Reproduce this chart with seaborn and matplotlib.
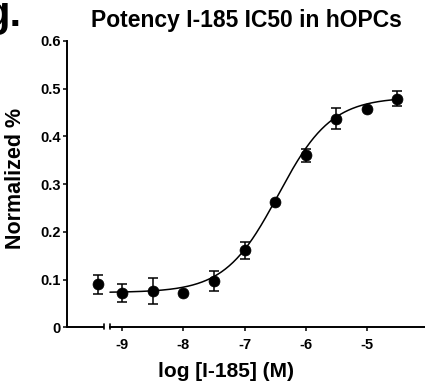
import numpy as np
import pandas as pd
import seaborn as sns
import matplotlib.pyplot as plt
import matplotlib.transforms as mtransforms

# Measured points (log concentration, normalized response, SEM)
log_conc = [-9.4, -9.0, -8.5, -8.0, -7.5, -7.0, -6.5, -6.0, -5.5, -5.0, -4.5]
response = [0.090, 0.072, 0.076, 0.071, 0.097, 0.161, 0.263, 0.360, 0.437, 0.458, 0.479]
sem = [0.020, 0.019, 0.027, 0.0, 0.021, 0.018, 0.0, 0.013, 0.022, 0.0, 0.016]

# 4PL fit parameters
fit_bottom = 0.073
fit_top = 0.482
fit_logic50 = -6.45
fit_hill = 1.0
fit_range = (-9.2, -4.5)

xticks = [-9, -8, -7, -6, -5]
yticks = [0, 0.1, 0.2, 0.3, 0.4, 0.5, 0.6]
ytick_labels = ["0", "0.1", "0.2", "0.3", "0.4", "0.5", "0.6"]

df = pd.DataFrame({"logc": log_conc, "resp": response, "sem": sem})
xfit = np.linspace(fit_range[0], fit_range[1], 300)
fit = pd.DataFrame({"logc": xfit,
                    "resp": fit_bottom + (fit_top - fit_bottom) / (1 + 10 ** ((fit_logic50 - xfit) * fit_hill))})

sns.set_style("ticks")
plt.rcParams["font.family"] = ["Liberation Sans", "DejaVu Sans"]
plt.rcParams["font.weight"] = "bold"
plt.rcParams["text.color"] = "black"
plt.rcParams["axes.labelcolor"] = "black"
plt.rcParams["xtick.color"] = "black"
plt.rcParams["ytick.color"] = "black"
plt.rcParams["axes.edgecolor"] = "black"

fig = plt.figure(figsize=(4.25, 3.82), dpi=100)
ax = fig.add_axes([0.158, 0.143, 0.842, 0.75])

sns.lineplot(data=fit, x="logc", y="resp", color="black", linewidth=1.1, ax=ax)
err = df[df["sem"] > 0]
ax.errorbar(err["logc"], err["resp"], yerr=err["sem"], fmt="none", ecolor="black",
            elinewidth=1.1, capsize=3.8, capthick=1.1, zorder=3)
sns.scatterplot(data=df, x="logc", y="resp", color="black", s=62, edgecolor="black",
                linewidth=0.5, zorder=4, ax=ax)

ax.set_xlim(-9.9, -4.05)
ax.set_ylim(0, 0.6)
ax.set_xticks(xticks)
ax.set_xticklabels([str(t) for t in xticks])
ax.set_yticks(yticks)
ax.set_yticklabels(ytick_labels)
ax.tick_params(axis="both", labelsize=10.5, width=1.1, length=3, pad=1.5)
for lbl in ax.get_xticklabels() + ax.get_yticklabels():
    lbl.set_fontweight("bold")
ax.tick_params(axis="x", pad=5)

sns.despine(ax=ax)
for s in ["left", "bottom"]:
    ax.spines[s].set_linewidth(1.4)

# broken x axis
ax.spines["bottom"].set_bounds(-9.2, -4.05)
trans = mtransforms.blended_transform_factory(ax.transData, ax.transAxes)
ax.plot([-9.9, -9.3], [0, 0], color="black", lw=1.4, transform=trans, clip_on=False,
        solid_capstyle="butt")
for bx in (-9.3, -9.2):
    ax.plot([bx, bx], [-0.004, 0.012], color="black", lw=1.2, transform=trans, clip_on=False)

ax.set_xlabel("log [I-185] (M)", fontsize=15, fontweight="bold")
ax.set_ylabel("Normalized %", fontsize=15.5, fontweight="bold")
ax.xaxis.set_label_coords(0.444, -0.12)
ax.yaxis.set_label_coords(-0.115, 0.52)
ax.set_title("Potency I-185 IC50 in hOPCs", fontsize=16.5, fontweight="bold", pad=10)

# panel letter, partly off the left/top edge as in the source figure
fig.text(-0.036, 0.932, "g.", fontsize=30, fontweight="bold", va="baseline", ha="left")

fig.savefig("out.png", dpi=100)
